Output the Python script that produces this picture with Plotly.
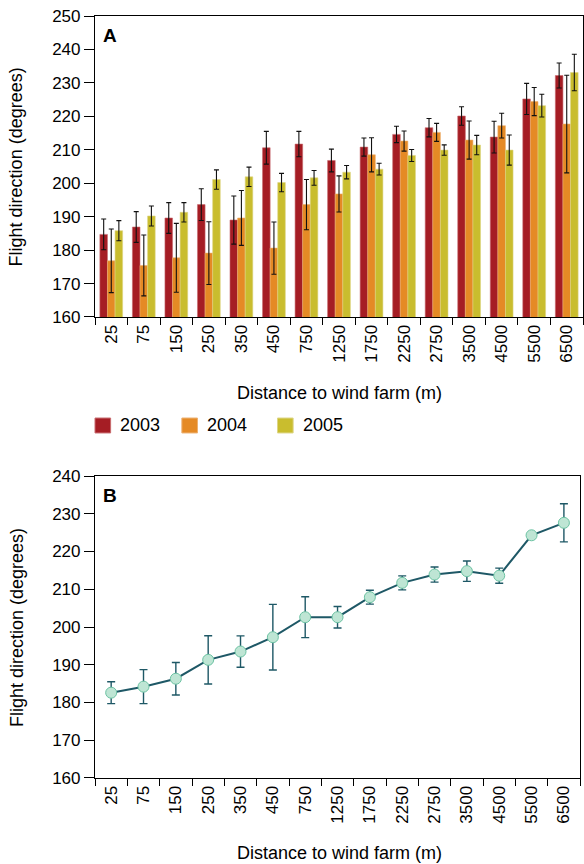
import plotly.graph_objects as go

cats = ["25", "75", "150", "250", "350", "450", "750", "1250", "1750",
        "2250", "2750", "3500", "4500", "5500", "6500"]
a2003 = [184.7, 186.9, 189.6, 193.6, 189.0, 210.6, 211.7, 206.8, 210.8,
         214.6, 216.6, 220.1, 213.8, 225.2, 232.2]
e2003 = [4.6, 4.6, 4.6, 4.75, 7.2, 4.9, 3.8, 3.4, 2.7, 2.45, 2.75, 2.75,
         4.75, 4.65, 3.75]
a2004 = [176.8, 175.4, 177.7, 179.1, 189.6, 180.6, 193.6, 196.8, 208.5,
         212.6, 215.2, 212.9, 217.2, 224.4, 217.7]
e2004 = [9.5, 9.1, 10.3, 9.4, 8.2, 7.8, 7.5, 5.4, 5.1, 3.0, 2.7, 5.7, 3.7,
         4.2, 14.6]
a2005 = [185.8, 190.2, 191.3, 201.1, 201.9, 200.2, 201.6, 203.3, 204.2,
         208.3, 209.9, 211.4, 209.9, 223.2, 233.1]
e2005 = [3.0, 3.0, 2.9, 2.9, 2.9, 2.75, 2.2, 2.0, 1.75, 1.8, 1.55, 2.9, 4.5,
         3.4, 5.45]
mean_all = [182.6, 184.2, 186.3, 191.3, 193.5, 197.3, 202.6, 202.6, 207.9,
            211.7, 213.9, 214.8, 213.6, 224.3, 227.6]
err_all = [2.9, 4.5, 4.3, 6.4, 4.15, 8.7, 5.4, 2.85, 1.85, 1.85, 2.0, 2.7,
           2.0, 0, 5.05]
years = ["2003", "2004", "2005"]
yticksA = [160, 170, 180, 190, 200, 210, 220, 230, 240, 250]
yticksB = [160, 170, 180, 190, 200, 210, 220, 230, 240]

colors = ["#A51D24", "#E58A25", "#C9BD2E"]
edges = ["#C86A6E", "#EDB070", "#DDD585"]
FONT = "Liberation Sans, Arial, Helvetica, sans-serif"

fig = go.Figure()
for yr, vals, errs, c, ec in zip(years, [a2003, a2004, a2005],
                                 [e2003, e2004, e2005], colors, edges):
    fig.add_trace(go.Bar(
        x=cats, y=vals, name=yr, xaxis="x", yaxis="y", showlegend=False,
        marker=dict(color=c, line=dict(color=ec, width=0.6)),
        error_y=dict(type="data", array=errs, color="#111111",
                     thickness=1.1, width=2.5),
    ))

fig.add_trace(go.Scatter(
    x=cats, y=mean_all, xaxis="x2", yaxis="y2", mode="lines+markers",
    showlegend=False,
    line=dict(color="#1E5866", width=2),
    marker=dict(size=11, color="#BEE5D4", line=dict(color="#6CC3A3", width=1)),
    error_y=dict(type="data", array=err_all, color="#1E5866",
                 thickness=1.4, width=4),
))

axis_common = dict(
    showline=True, linecolor="black", linewidth=1.2, mirror=True,
    ticks="outside", tickcolor="black", showgrid=False, zeroline=False,
    tickfont=dict(family=FONT, size=17, color="black"),
)

fig.update_layout(
    width=584, height=864,
    margin=dict(l=95, r=1, t=16, b=86),
    paper_bgcolor="white", plot_bgcolor="white",
    barmode="group", bargap=0.3, bargroupgap=0.0,
    font=dict(family=FONT, size=17, color="black"),
    showlegend=False,
    xaxis=dict(domain=[0, 1], anchor="y", tickangle=-90, range=[-0.5, 14.5],
               tickson="boundaries", ticklen=7, **axis_common),
    yaxis=dict(domain=[0.605, 1], anchor="x", range=[160, 250],
               tickvals=yticksA, ticklen=10, **axis_common),
    xaxis2=dict(domain=[0, 0.994], anchor="y2", tickangle=-90,
                range=[-0.5, 14.5],
                tickson="boundaries", ticklen=7, **axis_common),
    yaxis2=dict(domain=[0, 0.3963], anchor="x2", range=[160, 240],
                tickvals=yticksB, ticklen=10, **axis_common),
)

ann = []
shapes = []
ann.append(dict(text="<b>A</b>", x=0.031, y=0.975, xref="paper", yref="paper",
                showarrow=False, font=dict(size=19, family=FONT),
                xanchor="center", yanchor="middle"))
ann.append(dict(text="<b>B</b>", x=0.031, y=0.371, xref="paper", yref="paper",
                showarrow=False, font=dict(size=19, family=FONT),
                xanchor="center", yanchor="middle"))
for yy in [0.505, -0.098]:
    ann.append(dict(text="Distance to wind farm (m)", x=0.5, y=yy,
                    xref="paper", yref="paper", showarrow=False,
                    font=dict(size=18, family=FONT),
                    xanchor="center", yanchor="middle"))
for yy in [0.8025, 0.198]:
    ann.append(dict(text="Flight direction (degrees)", x=-0.16, y=yy,
                    xref="paper", yref="paper", showarrow=False,
                    textangle=-90, font=dict(size=18, family=FONT),
                    xanchor="center", yanchor="middle"))

# manual legend
leg_x = [0.0, 0.178, 0.374]
for yr, c, ec, lx in zip(years, colors, edges, leg_x):
    shapes.append(dict(type="rect", xref="paper", yref="paper",
                       x0=lx, x1=lx + 0.032, y0=0.4528, y1=0.4724,
                       fillcolor=c, line=dict(color=ec, width=1)))
    ann.append(dict(text=yr, x=lx + 0.0475, y=0.4626, xref="paper",
                    yref="paper", showarrow=False, xanchor="left",
                    yanchor="middle", font=dict(size=18, family=FONT)))

fig.update_layout(annotations=ann, shapes=shapes)

fig.write_html("out.html", config={"displayModeBar": False},
               post_script="document.body.style.margin='0';"
                           "document.body.style.overflow='hidden';")
